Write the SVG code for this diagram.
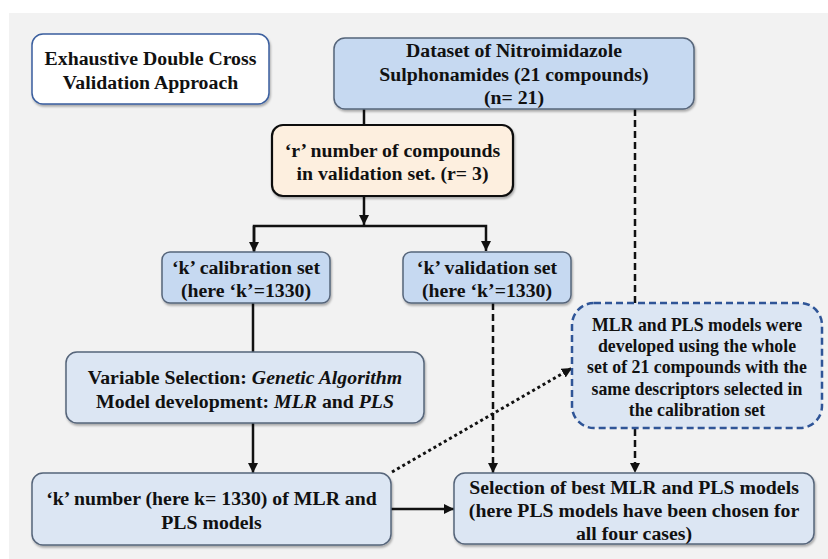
<svg xmlns="http://www.w3.org/2000/svg" width="828" height="559" viewBox="0 0 828 559">
<style>
text{font-family:"Liberation Serif","Times New Roman",serif;font-weight:bold;font-size:19.8px;fill:#111;text-anchor:middle}
.sm{font-size:17.8px}
.blue{fill:#c6d9f1;stroke:#56657a;stroke-width:1.5}
.lite{fill:#dce6f3;stroke:#56657a;stroke-width:1.5}
.peach{fill:#fdefdf;stroke:#111;stroke-width:2.2}
.title{fill:#fff;stroke:#3a5e9e;stroke-width:1.5}
.dash{fill:#dce6f3;stroke:#2f5597;stroke-width:2.5;stroke-dasharray:7 4}
.ln{fill:none;stroke:#111;stroke-width:2.5}
.dl{fill:none;stroke:#111;stroke-width:2.5;stroke-dasharray:7 4}
.dt{fill:none;stroke:#111;stroke-width:3;stroke-dasharray:3 3}
</style>
<defs>
<marker id="ah" viewBox="0 0 10 10" refX="10" refY="5" markerWidth="4" markerHeight="4" orient="auto" markerUnits="strokeWidth">
<path d="M0,0 L10,5 L0,10 z" fill="#111"/>
</marker>
<marker id="ah2" viewBox="0 0 10 10" refX="10" refY="5" markerWidth="3.4" markerHeight="3.4" orient="auto" markerUnits="strokeWidth">
<path d="M0,0 L10,5 L0,10 z" fill="#111"/>
</marker>
<filter id="sh" x="-5%" y="-5%" width="110%" height="120%">
<feDropShadow dx="1" dy="2" stdDeviation="1.2" flood-color="#000" flood-opacity="0.3"/>
</filter>
</defs>
<rect x="9" y="13" width="819" height="546" fill="#f2f2f2"/>
<g id="connectors">
<line class="ln" x1="364" y1="109" x2="364" y2="125"/>
<line class="ln" x1="364" y1="196" x2="364" y2="225" marker-end="url(#ah)"/>
<polyline class="ln" points="254,251 254,226 486,226 486,251" marker-end="url(#ah)"/>
<line class="ln" x1="254" y1="226" x2="254" y2="252" marker-end="url(#ah)"/>
<line class="ln" x1="253" y1="303" x2="253" y2="352"/>
<line class="ln" x1="253" y1="423" x2="253" y2="473" marker-end="url(#ah)"/>
<line class="ln" x1="391" y1="509" x2="454" y2="509" marker-end="url(#ah)"/>
<line class="dl" x1="635" y1="109" x2="635" y2="303"/>
<line class="dl" x1="635" y1="429" x2="635" y2="473" marker-end="url(#ah)"/>
<line class="dl" x1="493" y1="303" x2="493" y2="473" marker-end="url(#ah)"/>
<line class="dt" x1="392" y1="472" x2="572" y2="368" marker-end="url(#ah2)"/>
</g>
<g id="title">
<rect class="title" x="32" y="34" width="237" height="70" rx="11" filter="url(#sh)"/>
<text x="150.5" y="64.5">Exhaustive Double Cross</text>
<text x="150.5" y="88.5">Validation Approach</text>
</g>
<g id="dataset">
<rect class="blue" x="334" y="38" width="360" height="71" rx="11" filter="url(#sh)"/>
<text x="514" y="57">Dataset of Nitroimidazole</text>
<text x="514" y="81">Sulphonamides (21 compounds)</text>
<text x="514" y="104">(n= 21)</text>
</g>
<g id="rbox">
<rect class="peach" x="272" y="125" width="241" height="71" rx="11" filter="url(#sh)"/>
<text x="392.5" y="156.5">‘r’ number of compounds</text>
<text x="392.5" y="179.5">in validation set. (r= 3)</text>
</g>
<g id="calib">
<rect class="blue" x="162" y="252" width="168" height="51" rx="8" filter="url(#sh)"/>
<text x="246" y="273.5">‘k’ calibration set</text>
<text x="246" y="296.5">(here ‘k’=1330)</text>
</g>
<g id="valid">
<rect class="blue" x="403" y="252" width="168" height="51" rx="8" filter="url(#sh)"/>
<text x="487" y="273.5">‘k’ validation set</text>
<text x="487" y="296.5">(here ‘k’=1330)</text>
</g>
<g id="varsel">
<rect class="lite" x="66" y="352" width="358" height="71" rx="11" filter="url(#sh)"/>
<text x="245" y="383.5">Variable Selection: <tspan font-style="italic">Genetic Algorithm</tspan></text>
<text x="245" y="407.5">Model development: <tspan font-style="italic">MLR</tspan> and <tspan font-style="italic">PLS</tspan></text>
</g>
<g id="knumber">
<rect class="lite" x="32" y="473" width="359" height="72" rx="11" filter="url(#sh)"/>
<text x="211.5" y="504.5">‘k’ number (here k= 1330) of MLR and</text>
<text x="211.5" y="528.5">PLS models</text>
</g>
<g id="whole">
<rect class="dash" x="572" y="303" width="250" height="125" rx="22"/>
<text class="sm" x="697" y="331">MLR and PLS models were</text>
<text class="sm" x="697" y="352">developed using the whole</text>
<text class="sm" x="697" y="373">set of 21 compounds with the</text>
<text class="sm" x="697" y="395">same descriptors selected in</text>
<text class="sm" x="697" y="416">the calibration set</text>
</g>
<g id="selection">
<rect class="lite" x="454" y="473" width="360" height="71" rx="11" filter="url(#sh)"/>
<text x="634" y="493.5">Selection of best MLR and PLS models</text>
<text x="634" y="516.5">(here PLS models have been chosen for</text>
<text x="634" y="539.5">all four cases)</text>
</g>
</svg>
